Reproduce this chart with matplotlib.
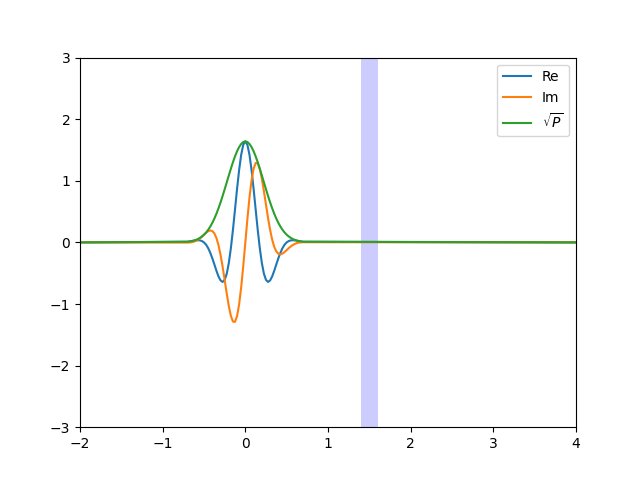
import numpy as np
import matplotlib
matplotlib.use("Agg")
import matplotlib.pyplot as plt

# sample grid of the wave packet (step 0.025)
x_pts = np.linspace(-0.7, 0.7, 57)

re_vals = [0.010, 0.015, 0.021, 0.027, 0.033, 0.035, 0.033, 0.022, 0.000, -0.037,
           -0.092, -0.166, -0.255, -0.356, -0.459, -0.551, -0.617, -0.642, -0.609, -0.509,
           -0.336, -0.094, 0.203, 0.534, 0.870, 1.177, 1.424, 1.585, 1.640, 1.585,
           1.424, 1.177, 0.870, 0.534, 0.203, -0.094, -0.336, -0.509, -0.609, -0.642,
           -0.617, -0.551, -0.459, -0.356, -0.255, -0.166, -0.092, -0.037, 0.000, 0.022,
           0.033, 0.035, 0.033, 0.027, 0.021, 0.015, 0.010]

im_vals = [-0.003, -0.001, 0.003, 0.011, 0.024, 0.041, 0.065, 0.093, 0.125, 0.156,
           0.181, 0.194, 0.185, 0.147, 0.073, -0.043, -0.201, -0.393, -0.609, -0.830,
           -1.033, -1.193, -1.285, -1.290, -1.197, -1.005, -0.726, -0.380, 0.000, 0.380,
           0.726, 1.005, 1.197, 1.290, 1.285, 1.193, 1.033, 0.830, 0.609, 0.393,
           0.201, 0.043, -0.073, -0.147, -0.185, -0.194, -0.181, -0.156, -0.125, -0.093,
           -0.065, -0.041, -0.024, -0.011, -0.003, 0.001, 0.003]

sqrtp_vals = [0.011, 0.015, 0.021, 0.029, 0.040, 0.054, 0.073, 0.096, 0.125, 0.161,
              0.204, 0.255, 0.316, 0.385, 0.464, 0.553, 0.649, 0.753, 0.862, 0.974,
              1.086, 1.196, 1.301, 1.396, 1.480, 1.548, 1.598, 1.630, 1.640, 1.630,
              1.598, 1.548, 1.480, 1.396, 1.301, 1.196, 1.086, 0.974, 0.862, 0.753,
              0.649, 0.553, 0.464, 0.385, 0.316, 0.255, 0.204, 0.161, 0.125, 0.096,
              0.073, 0.054, 0.040, 0.029, 0.021, 0.015, 0.011]

# flat tails out to the plot edges
x_left, x_right = -2.0, 4.0
barrier = (1.4, 1.6)


def padded(vals):
    return np.concatenate([[0.0], vals, [0.0]])


def main():
    x = np.concatenate([[x_left], x_pts, [x_right]])

    fig, ax = plt.subplots(figsize=(6.4, 4.8), dpi=100)
    ax.plot(x, padded(re_vals), label='Re')
    ax.plot(x, padded(im_vals), label='Im')
    ax.plot(x, padded(sqrtp_vals), label=r'$\sqrt{P}$')
    ax.axvspan(barrier[0], barrier[1], color='blue', alpha=0.2, lw=0)

    ax.set_xlim(x_left, x_right)
    ax.set_ylim(-3, 3)
    ax.legend(loc='upper right')
    fig.savefig('out.png')


if __name__ == '__main__':
    main()
